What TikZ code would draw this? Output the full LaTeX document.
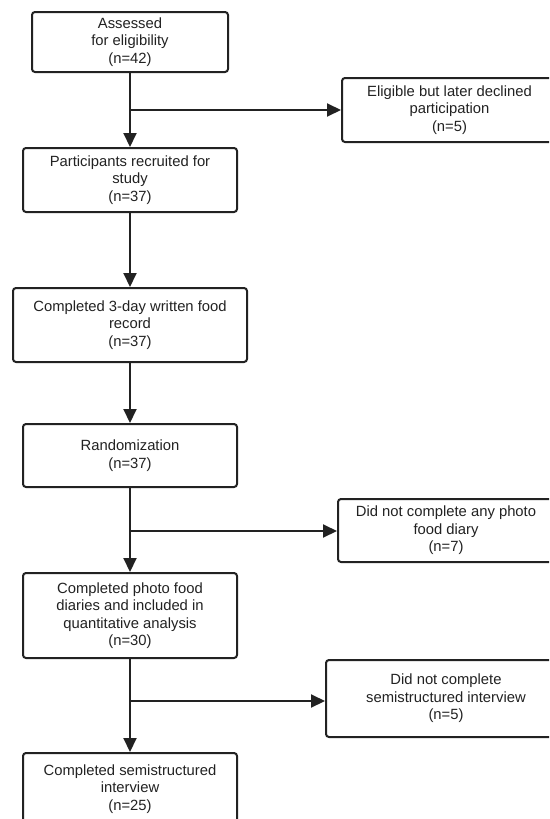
\documentclass[tikz,border=0pt]{standalone}
\usepackage{fontspec}
\setmainfont{Liberation Sans}
\usetikzlibrary{arrows.meta}
\definecolor{ink}{HTML}{222222}
\tikzset{
  box/.style={draw=ink, line width=2pt, rounded corners=3pt, align=center, text=ink,
    inner sep=0pt, font=\fontsize{14.8}{17.5}\selectfont},
  flow/.style={draw=ink, line width=2pt, -{Triangle[width=13pt,length=14pt]}},
  plain/.style={draw=ink, line width=2pt}
}
\begin{document}
\begin{tikzpicture}[x=1pt,y=-1pt]
\useasboundingbox (0,0) rectangle (549,819);
\clip (0,0) rectangle (549,819);
\fill[white] (0,0) rectangle (549,819);
\node[box, minimum width=196pt, minimum height=60pt] (b1) at (130,42) {Assessed\\for eligibility\\(n=42)};
\node[box, minimum width=214pt, minimum height=64pt] (b2) at (130,180) {Participants recruited for\\study\\(n=37)};
\node[box, minimum width=234pt, minimum height=74pt] (b3) at (130,325) {Completed 3-day written food\\record\\(n=37)};
\node[box, minimum width=214pt, minimum height=63pt] (b4) at (130,455.5) {Randomization\\(n=37)};
\node[box, minimum width=214pt, minimum height=85pt] (b5) at (130,615.5) {Completed photo food\\diaries and included in\\quantitative analysis\\(n=30)};
\node[box, minimum width=214pt, minimum height=72pt] (b6) at (130,789) {Completed semistructured\\interview\\(n=25)};
\node[box, minimum width=215pt, minimum height=64pt] (r1) at (449.5,110) {Eligible but later declined\\participation\\(n=5)};
\node[box, minimum width=216pt, minimum height=63pt] (r2) at (446,530.5) {Did not complete any photo\\food diary\\(n=7)};
\node[box, minimum width=240pt, minimum height=77pt] (r3) at (446,698.5) {Did not complete\\semistructured interview\\(n=5)};
\coordinate (j1) at (130,110);
\coordinate (j2) at (130,531);
\coordinate (j3) at (130,701);
\draw[flow] (b1) -- (b2);
\draw[flow] (j1) -- (j1 -| r1.west);
\draw[flow] (b2) -- (b3);
\draw[flow] (b3) -- (b4);
\draw[flow] (b4) -- (b5);
\draw[flow] (j2) -- (j2 -| r2.west);
\draw[flow] (b5) -- (b6);
\draw[flow] (j3) -- (j3 -| r3.west);
\end{tikzpicture}
\end{document}
